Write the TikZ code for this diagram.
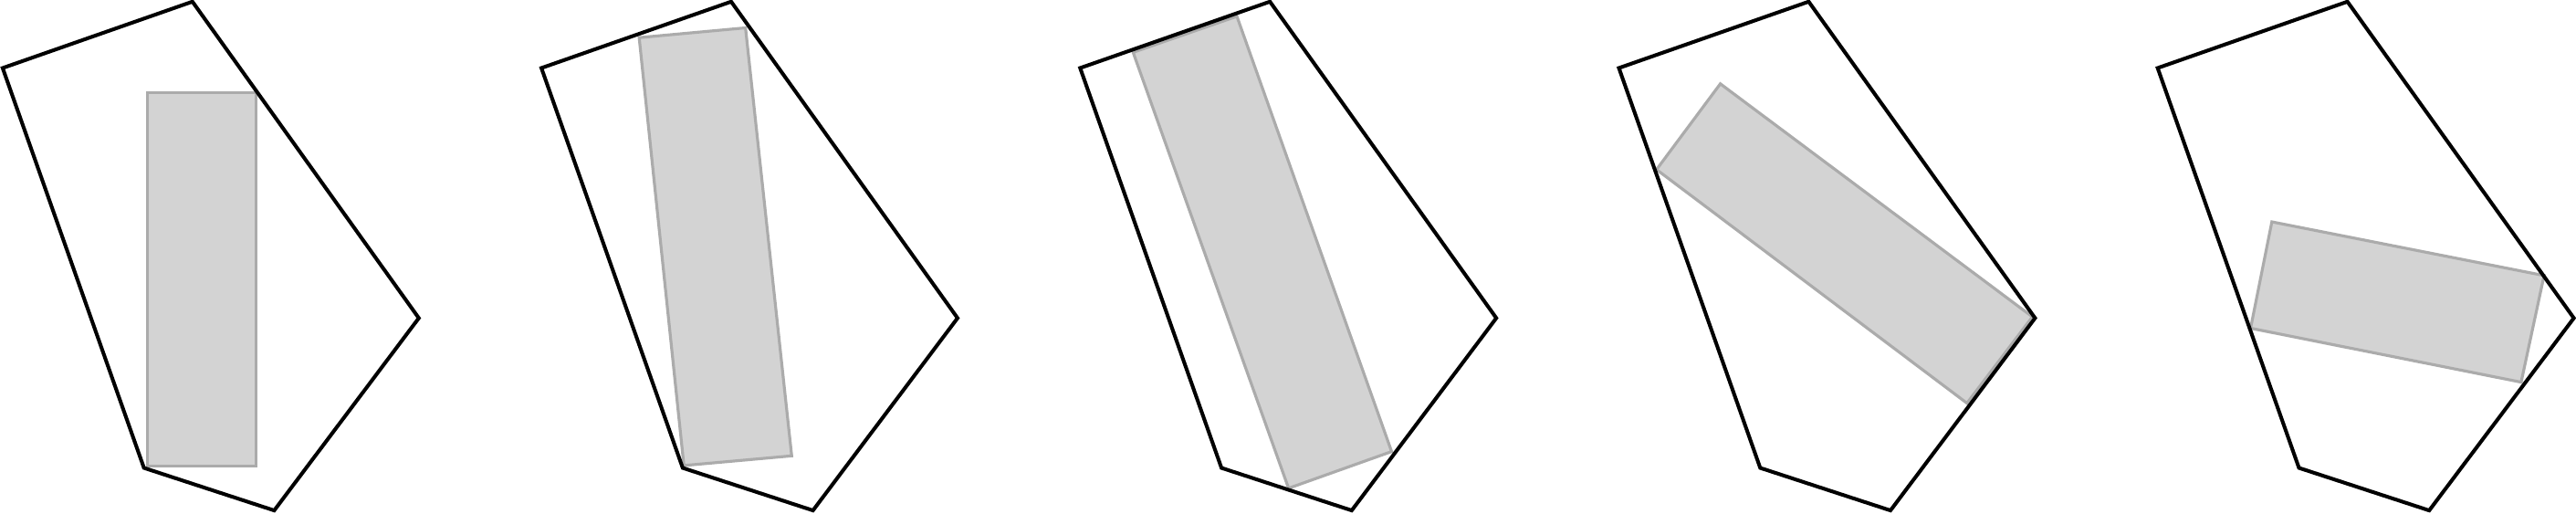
\documentclass[tikz,border=0pt]{standalone}
\usepackage{tikz}
\definecolor{boxfill}{HTML}{D3D3D3}
\definecolor{boxline}{HTML}{ABABAB}

\begin{document}
\begin{tikzpicture}[
    hull/.style={draw=black, line width=1.15pt},
    box/.style={draw=boxline, fill=boxfill, line width=0.9pt}
]
    \useasboundingbox (0,0) rectangle (28.22,5.62);

    % Rectangles, one per panel
    \draw[box] (1.613,4.602) -- (2.806,4.602) -- (2.806,0.512) -- (1.613,0.512) -- cycle;
    \draw[box, shift={(5.902,0)}] (1.100,5.208) -- (2.265,5.315) -- (2.771,0.627) -- (1.590,0.521) -- cycle;
    \draw[box, shift={(11.804,0)}] (0.609,5.047) -- (1.746,5.441) -- (3.441,0.674) -- (2.312,0.272) -- cycle;
    \draw[box, shift={(17.706,0)}] (1.140,4.702) -- (4.559,2.150) -- (3.842,1.204) -- (0.441,3.763) -- cycle;
    \draw[box, shift={(23.608,0)}] (1.280,3.190) -- (4.262,2.602) -- (4.011,1.434) -- (1.047,2.025) -- cycle;

    % Hull (same pentagon in every panel)
    \foreach \i in {0,...,4} {
        \draw[hull, shift={(5.902*\i,0)}] (0.029,4.875) -- (2.108,5.602) -- (4.588,2.136) -- (3.004,0.029) -- (1.577,0.495) -- cycle;
    }
\end{tikzpicture}
\end{document}
